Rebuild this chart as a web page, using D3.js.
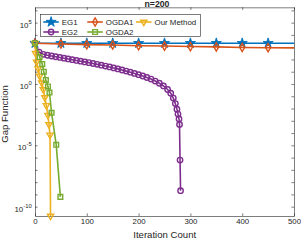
<!DOCTYPE html>
<html>
<head>
<meta charset="utf-8">
<script src="https://cdn.jsdelivr.net/npm/d3@7"></script>
<style>
  body { margin: 0; background: #fff; }
  text { font-family: "Liberation Sans", Arial, Helvetica, sans-serif; fill: #262626; }
</style>
</head>
<body>
<svg id="chart" width="301" height="240"></svg>
<script>
// data
var iterEG1 = [0, 50, 100, 150, 200, 250, 300, 350, 400, 450, 500];
var gapEG1 = [2.1e3, 2.1e3, 2.1e3, 2.1e3, 2.1e3, 2.1e3, 2.1e3, 2.1e3, 2.1e3, 2.1e3, 2.1e3];

var iterOGDA1 = [0, 50, 100, 150, 200, 250, 300, 350, 400, 450, 500];
var gapOGDA1 = [2.1e3, 1.8e3, 1.6e3, 1.5e3, 1.3e3, 1.23e3, 1.12e3, 1.05e3, 9.3e2, 9.1e2, 8.7e2];

var iterEG2 = [0, 8, 16, 24, 32, 40, 48, 56, 64, 72, 80, 88, 96, 104, 112, 120, 128, 136, 144,
  152, 160, 168, 176, 184, 192, 200, 208, 216, 224, 232, 240, 248, 256, 262, 267, 271, 274,
  276, 278, 279, 280, 281];
var gapEG2 = [2.1e3, 400, 263, 219, 191, 166, 145, 126, 110, 95.5, 83.2, 72.4, 63.1, 55, 46.8,
  39.8, 33.9, 28.8, 24.5, 20.4, 17, 13.8, 11.2, 9.1, 7.24, 5.75, 4.47, 3.39, 2.51, 1.74, 1.15,
  0.69, 0.355, 0.178, 0.0708, 0.0251, 8.9e-3, 3.5e-3, 1.4e-3, 5e-4, 6.3e-7, 2e-9];

var iterOGDA2 = [0, 9, 14, 17, 21, 25, 28, 32, 41, 49];
var gapOGDA2 = [2.1e3, 158, 41.7, 10, 2.14, 0.63, 0.2, 4.5e-3, 1.1e-5, 6.3e-10];

var iterOurs = [0, 1, 3, 6, 9, 13, 16, 19, 22, 25, 27, 29, 30];
var gapOurs = [2.1e3, 316, 63, 17.8, 4.5, 1.26, 0.355, 0.079, 0.0178, 2.8e-3, 5e-4, 7.1e-5, 1.74e-11];

var xTicks = [0, 100, 200, 300, 400, 500];
var yTicks = [1e-10, 1e-9, 1e-8, 1e-7, 1e-6, 1e-5, 1e-4, 1e-3, 1e-2, 1e-1, 1, 1e1, 1e2, 1e3, 1e4, 1e5, 1e6];
var yLabelExp = [-10, -5, 0, 5];

var plotL = 35, plotR = 294, plotT = 7.3, plotB = 216;
var axisColor = "#262626";

var svg = d3.select("#chart");

var x = d3.scaleLinear().domain([0, 500]).range([plotL, plotR]);
var y = d3.scaleLog().domain([Math.pow(10, -10.76), Math.pow(10, 6.25)]).range([plotB, plotT]);

function zip(a, b) { return a.map(function(v, i) { return {it: v, g: b[i]}; }); }

var series = [
  {name: "EG1", color: "#0072BD", sym: d3.symbolStar, size: 32, fill: true, data: zip(iterEG1, gapEG1), every50: true},
  {name: "OGDA1", color: "#D95319", sym: d3.symbolDiamond, size: 20, data: zip(iterOGDA1, gapOGDA1), every50: true},
  {name: "EG2", color: "#7E2F8E", sym: d3.symbolCircle, size: 23, data: zip(iterEG2, gapEG2)},
  {name: "Our Method", color: "#EDB120", sym: d3.symbolTriangle, size: 17, rot: 180, data: zip(iterOurs, gapOurs)},
  {name: "OGDA2", color: "#77AC30", sym: d3.symbolSquare, size: 22, data: zip(iterOGDA2, gapOGDA2)}
];

// axes (box with inside ticks)
function styleAxis(g) {
  g.selectAll("path, line").attr("stroke", axisColor).attr("stroke-width", 0.6);
  g.selectAll("text").style("font-size", "7.8px").attr("fill", axisColor);
}
svg.append("g").attr("transform", "translate(0," + plotB + ")")
  .call(d3.axisBottom(x).tickValues(xTicks).tickSizeInner(-2.6).tickSizeOuter(0).tickPadding(2.5))
  .call(styleAxis);
svg.append("g").attr("transform", "translate(0," + plotT + ")")
  .call(d3.axisTop(x).tickValues(xTicks).tickSizeInner(-2.6).tickSizeOuter(0).tickFormat(""))
  .call(styleAxis);
var yAx = svg.append("g").attr("transform", "translate(" + plotL + ",0)")
  .call(d3.axisLeft(y).tickValues(yTicks).tickSizeInner(-2.6).tickSizeOuter(0).tickPadding(3.3)
    .tickFormat(function(d) { var e = Math.round(Math.log10(d)); return yLabelExp.indexOf(e) >= 0 ? e : ""; }))
  .call(styleAxis);
yAx.selectAll("text").each(function() {
  var t = d3.select(this), e = t.text();
  if (e === "") return;
  t.text("").attr("dy", null).attr("y", 4.6);
  t.append("tspan").text("10").style("font-size", "7.9px");
  t.append("tspan").text(e).attr("dy", -4).style("font-size", "5.9px");
});
svg.append("g").attr("transform", "translate(" + plotR + ",0)")
  .call(d3.axisRight(y).tickValues(yTicks).tickSizeInner(-2.6).tickSizeOuter(0).tickFormat(""))
  .call(styleAxis);

// lines and markers
var line = d3.line().x(function(d) { return x(d.it); }).y(function(d) { return y(d.g); });

function marker(sel, s) {
  sel.attr("d", d3.symbol(s.sym, s.size)())
    .attr("fill", s.fill ? s.color : "none")
    .attr("stroke", s.color)
    .attr("stroke-width", s.fill ? 0.9 : 1.4);
}

series.forEach(function(s) {
  svg.append("path").datum(s.data)
    .attr("fill", "none").attr("stroke", s.color).attr("stroke-width", 1.6)
    .attr("stroke-linejoin", "round")
    .attr("d", line);
  var pts = s.every50 ? s.data.filter(function(d) { return d.it < 500; }) : s.data;
  svg.selectAll(null).data(pts).enter().append("path")
    .attr("transform", function(d) { return "translate(" + x(d.it) + "," + y(d.g) + ")" + (s.rot ? " rotate(" + s.rot + ")" : ""); })
    .call(marker, s);
});

// title and labels
svg.append("text").attr("x", 157).attr("y", 6.5).attr("text-anchor", "middle")
  .style("font-size", "8.7px").style("font-weight", "bold").text("n=200");
svg.append("text").attr("x", 164.7).attr("y", 237.8).attr("text-anchor", "middle")
  .style("font-size", "9.6px").text("Iteration Count");
svg.append("text").attr("transform", "translate(8.2,114) rotate(-90)")
  .attr("text-anchor", "middle").style("font-size", "9.6px").text("Gap Function");

// legend
var legendOrder = ["EG1", "OGDA1", "Our Method", "EG2", "OGDA2"];
var legendPos = [[43.3, 22], [87.3, 22], [136, 22], [43.3, 32], [87.3, 32]];
var lg = svg.append("g");
lg.append("rect").attr("x", 40.5).attr("y", 14.5).attr("width", 160).attr("height", 22)
  .attr("fill", "#fff").attr("stroke", axisColor).attr("stroke-width", 0.6);
legendOrder.forEach(function(n, i) {
  var s = series.filter(function(d) { return d.name === n; })[0];
  var p = legendPos[i];
  lg.append("line").attr("x1", p[0]).attr("x2", p[0] + 15.5).attr("y1", p[1]).attr("y2", p[1])
    .attr("stroke", s.color).attr("stroke-width", 1.6);
  lg.append("path").attr("transform", "translate(" + (p[0] + 7.8) + "," + p[1] + ")" + (s.rot ? " rotate(" + s.rot + ")" : ""))
    .call(marker, s);
  lg.append("text").attr("x", p[0] + 18.5).attr("y", p[1] + 2.8).style("font-size", "7.9px").text(n);
});
</script>
</body>
</html>
